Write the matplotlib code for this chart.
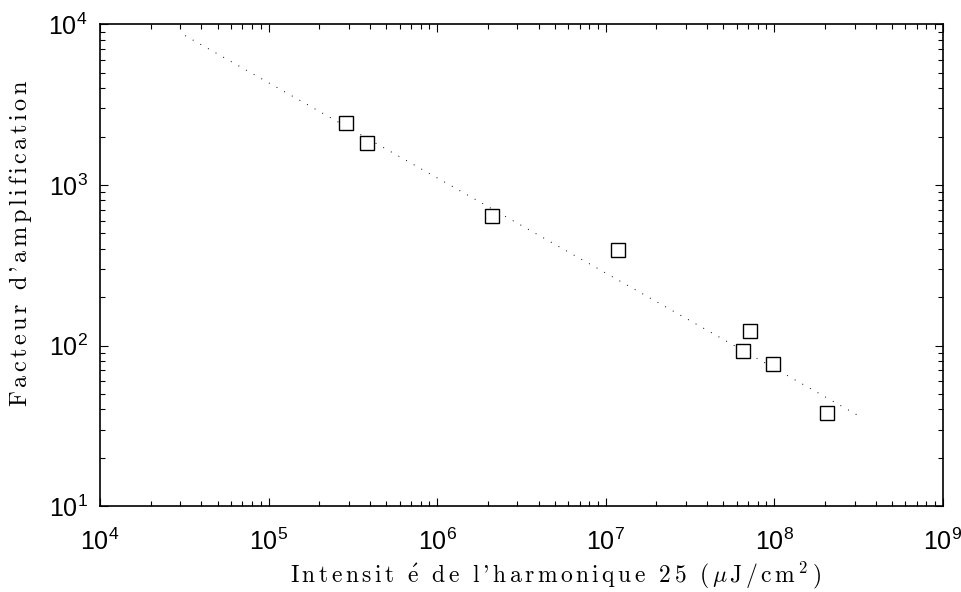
import re
import matplotlib
matplotlib.use("Agg")
import matplotlib.pyplot as plt
import matplotlib as mpl

mpl.rcParams['font.family'] = 'Liberation Sans'
mpl.rcParams['mathtext.fontset'] = 'cm'

# points mesurés
intensite = [2.9e5, 3.85e5, 2.12e6, 1.19e7, 7.2e7, 6.5e7, 9.8e7, 2.07e8]
facteur = [2420, 1820, 640, 392, 123, 92, 77, 38]

# droite d'ajustement (extrémités)
fit_x = [3.2e4, 3.25e8]
fit_y = [8500, 36]


def espace(s, gap=r'\,'):
    # texte espacé lettre par lettre, façon psfrag
    toks = re.findall(r'\$[^$]*\$|.', s)
    toks = [r'$\ $' if t == ' ' else t for t in toks]
    return ('$' + gap + '$').join(toks)


fig = plt.figure(figsize=(9.61, 5.92), dpi=100)
ax = fig.add_axes([0.104, 0.145, 0.877, 0.814])

ax.plot(fit_x, fit_y, color='black', linestyle=(0, (1, 8)), linewidth=0.7)
ax.plot(intensite, facteur, linestyle='none', marker='s', markersize=10.5,
        markerfacecolor='white', markeredgecolor='black', markeredgewidth=1.0)

ax.set_xscale('log')
ax.set_yscale('log')
ax.set_xlim(1e4, 1e9)
ax.set_ylim(1e1, 1e4)

ax.tick_params(which='both', direction='in', top=True, right=True, labelsize=18, width=0.8)
ax.tick_params(which='major', length=6)
ax.tick_params(which='minor', length=3.5)
ax.tick_params(axis='x', which='major', pad=16)
ax.tick_params(axis='y', which='major', pad=9)
for s in ax.spines.values():
    s.set_linewidth(1.2)

serif = 'cmr10'
ax.set_xlabel(espace(r"Intensit $\mathrm{\acute{e}}$ de l'harmonique 25 ($\mu$J/cm$^2$)"),
              family=serif, fontsize=17)
ax.set_ylabel(espace("Facteur d'amplification"), family=serif, fontsize=17.5)
ax.xaxis.set_label_coords(0.54, -0.112)
ax.yaxis.set_label_coords(-0.078, 0.546)

fig.savefig('out.png', dpi=100)
